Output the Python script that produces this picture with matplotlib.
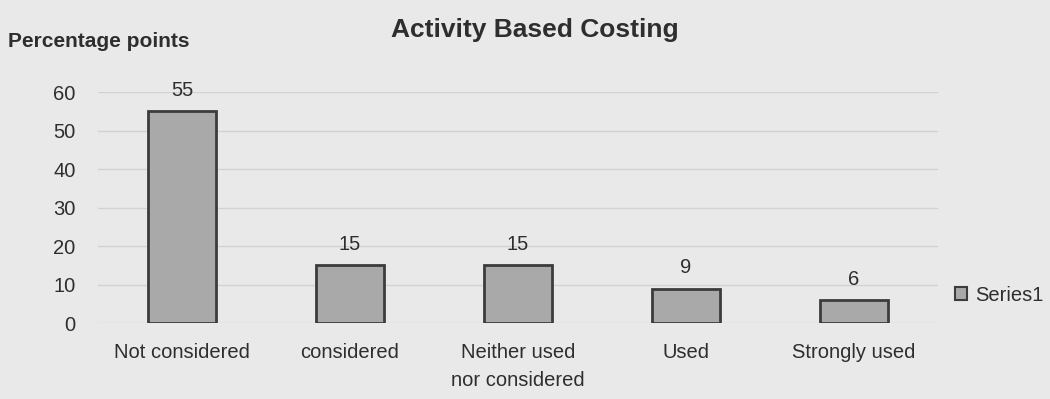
import matplotlib
matplotlib.use("Agg")
import matplotlib.pyplot as plt
from matplotlib.patches import Patch

categories = ["Not considered", "considered", "Neither used\nnor considered", "Used", "Strongly used"]
values = [55, 15, 15, 9, 6]
yticks = [0, 10, 20, 30, 40, 50, 60]

plt.rcParams["font.family"] = ["Liberation Sans", "DejaVu Sans"]
bg = "#e9e9e9"
txt = "#2e2e2e"

fig = plt.figure(figsize=(10.5, 3.99), dpi=100, facecolor=bg)
ax = fig.add_axes([0.0933, 0.19, 0.80, 0.579], facecolor=bg)

x = range(len(categories))
bars = ax.bar(x, values, width=0.4, color="#a9a9a9", edgecolor="#3c3c3c", linewidth=2, zorder=3)
for b, v in zip(bars, values):
    ax.text(b.get_x() + b.get_width() / 2, v + 3, str(v), ha="center", va="bottom",
            fontsize=14.5, color=txt, clip_on=False)

ax.set_ylim(0, 60)
ax.set_xlim(-0.5, len(categories) - 0.5)
ax.set_yticks(yticks)
ax.set_xticks(list(x))
ax.set_xticklabels(categories, fontsize=14.5, color=txt, linespacing=1.6)
ax.tick_params(axis="y", labelsize=14.5, labelcolor=txt, length=0, pad=16)
ax.tick_params(axis="x", length=0, pad=14)
ax.grid(axis="y", color="#d2d2d2", linewidth=1, zorder=0)
for s in ax.spines.values():
    s.set_visible(False)

fig.text(0.509, 0.925, "Activity Based Costing", ha="center", va="center",
         fontsize=19, fontweight="bold", color=txt)
fig.text(0.008, 0.897, "Percentage points", ha="left", va="center",
         fontsize=15, fontweight="bold", color=txt)

handle = Patch(facecolor="#a9a9a9", edgecolor="#3c3c3c", linewidth=1.5, label="Series1")
fig.legend(handles=[handle], loc="center left", bbox_to_anchor=(0.892, 0.26), frameon=False,
           fontsize=14.5, handlelength=0.6, handleheight=0.6, handletextpad=0.4, labelcolor=txt)

fig.savefig("out.png", dpi=100, facecolor=bg)
